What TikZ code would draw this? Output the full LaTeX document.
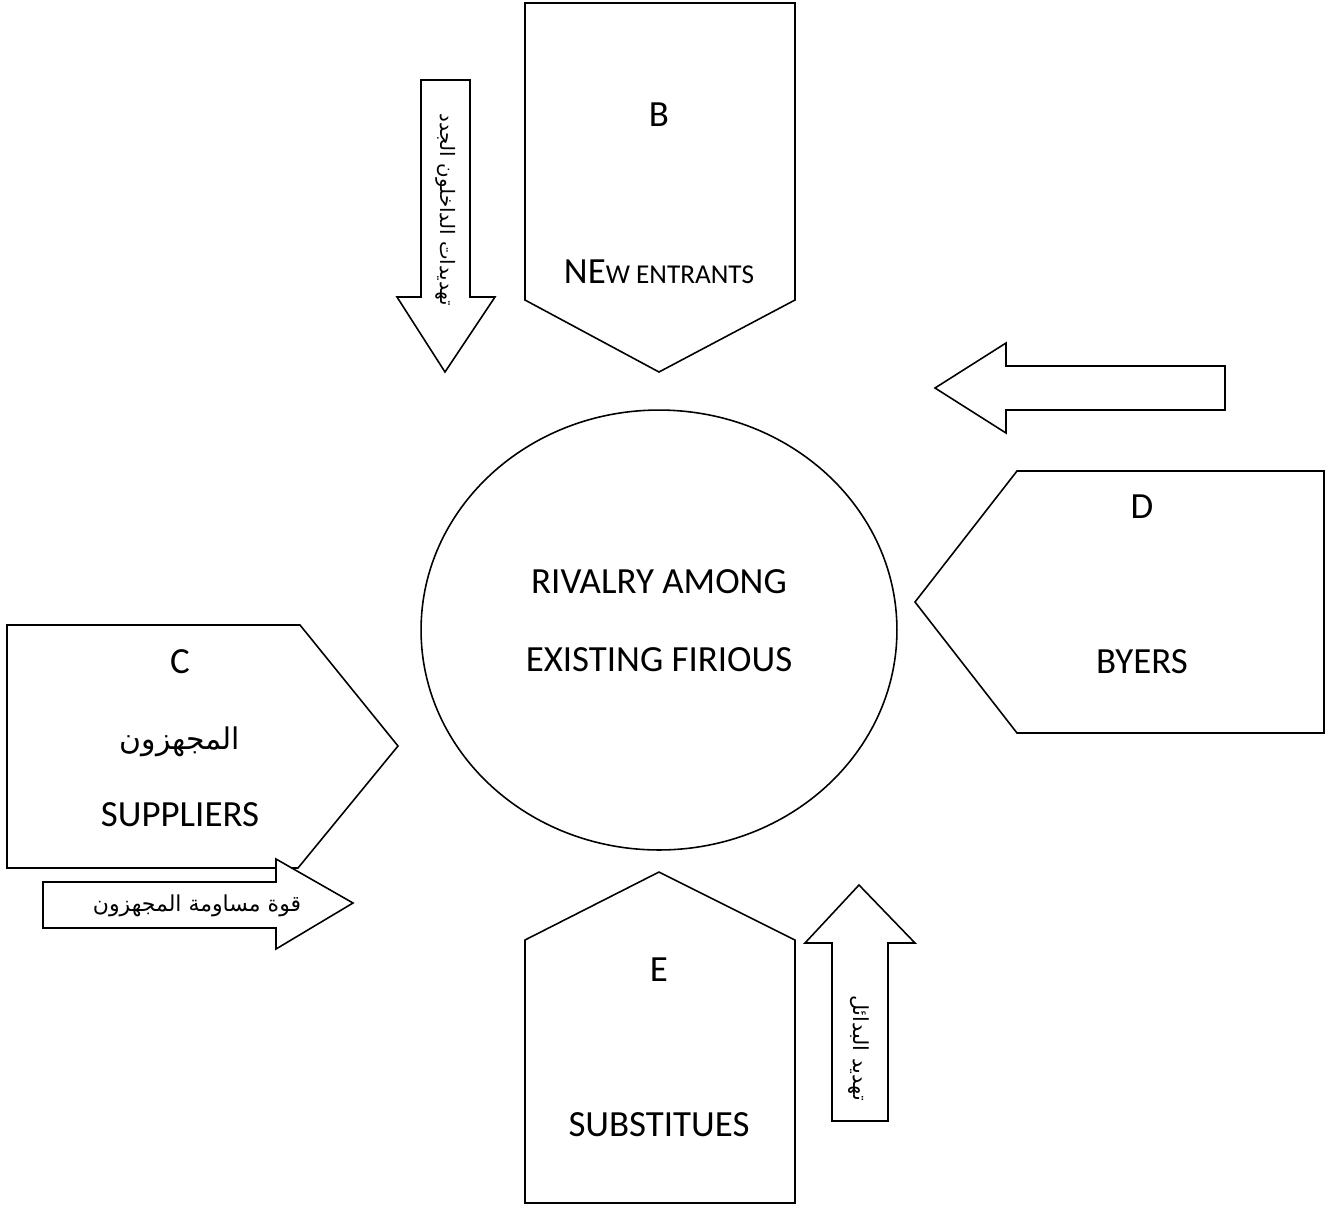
\documentclass[tikz,border=0pt]{standalone}
\usepackage{fontspec}
\usetikzlibrary{shapes.geometric}
\setmainfont{Carlito}
\newfontfamily\arabicfont[Script=Arabic]{DejaVu Sans}
\TeXXeTstate=1
\begin{document}
\begin{tikzpicture}[x=0.02cm,y=-0.02cm,
  shapeline/.style={draw=black,line width=0.9pt,line join=miter,fill=white},
  bigtext/.style={font=\fontsize{21}{25}\selectfont,inner sep=0pt},
  artext/.style={font=\arabicfont\fontsize{12.5}{15}\selectfont,inner sep=0pt}]
\useasboundingbox (0,0) rectangle (1326,1205);

% central ellipse
\node[shapeline,ellipse,minimum width=9.52cm,minimum height=8.8cm,inner sep=0pt] (rivalry) at (659,630) {};
\node[bigtext] (rival1) at (659,582) {RIVALRY AMONG};
\node[bigtext] (rival2) at (659,660) {EXISTING FIRIOUS};

% B: new entrants, pointing down
\draw[shapeline] (525,3) -- (795,3) -- (795,300) -- (659,372) -- (525,300) -- cycle;
\node[bigtext] (blab) at (659,115) {B};
\node[bigtext] (btxt) at (659,272) {NE{\fontsize{15.5}{18}\selectfont W ENTRANTS}};

% arrow beside B
\draw[shapeline] (421,80) -- (470,80) -- (470,297) -- (495,297) -- (445,372) -- (397,297) -- (421,297) -- cycle;
\node[artext,font=\arabicfont\fontsize{11.3}{14}\selectfont,rotate=-90] (threatB) at (446,210) {\beginR تهديدات الداخلون الجدد\endR};

% D: buyers, pointing left
\draw[shapeline] (1017,471) -- (1324,471) -- (1324,733) -- (1017,733) -- (915,602) -- cycle;
\node[bigtext] (dlab) at (1142,507) {D};
\node[bigtext] (dtxt) at (1142,662) {BYERS};

% arrow above D
\draw[shapeline] (1225,366) -- (1006,366) -- (1006,343) -- (935,388) -- (1006,433) -- (1006,410) -- (1225,410) -- cycle;

% C: suppliers, pointing right
\draw[shapeline] (7,625) -- (300,625) -- (398,746) -- (298,868) -- (7,868) -- cycle;
\node[bigtext] (clab) at (180,662) {C};
\node[font=\arabicfont\fontsize{17}{20}\selectfont,inner sep=0pt] (car) at (180,742) {\beginR المجهزون\endR};
\node[bigtext] (ctxt) at (180,815) {SUPPLIERS};

% arrow under C
\draw[shapeline] (43,882) -- (276,882) -- (276,859) -- (353,903) -- (276,949) -- (276,928) -- (43,928) -- cycle;
\node[artext] (powerC) at (197,906) {\beginR قوة مساومة المجهزون\endR};

% E: substitutes, pointing up
\draw[shapeline] (525,1203) -- (525,940) -- (659,872) -- (795,940) -- (795,1203) -- cycle;
\node[bigtext] (elab) at (659,970) {E};
\node[bigtext] (etxt) at (659,1125) {SUBSTITUES};

% arrow beside E
\draw[shapeline] (832,1121) -- (832,943) -- (805,943) -- (859,885) -- (915,943) -- (888,943) -- (888,1121) -- cycle;
\node[artext,font=\arabicfont\fontsize{11.8}{14}\selectfont,rotate=-90] (threatE) at (859,1048) {\beginR تهديد البدائل\endR};
\end{tikzpicture}
\end{document}
